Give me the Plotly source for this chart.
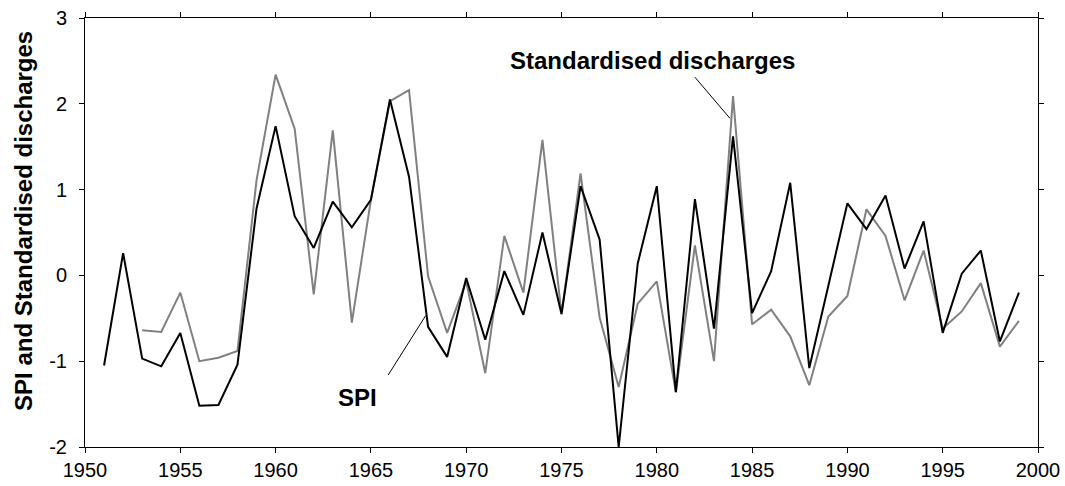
import plotly.graph_objects as go

years_spi = list(range(1951, 2000))
spi = [-1.05, 0.26, -0.97, -1.06, -0.67, -1.52, -1.51, -1.04, 0.78, 1.74,
       0.69, 0.32, 0.86, 0.56, 0.88, 2.05, 1.15, -0.60, -0.95, -0.03,
       -0.75, 0.05, -0.46, 0.50, -0.45, 1.04, 0.42, -2.00, 0.14, 1.04,
       -1.36, 0.89, -0.62, 1.62, -0.44, 0.05, 1.08, -1.08, -0.12, 0.84,
       0.54, 0.93, 0.08, 0.63, -0.67, 0.02, 0.29, -0.77, -0.20]

years_q = list(range(1953, 2000))
discharges = [-0.64, -0.66, -0.20, -1.00, -0.96, -0.88, 1.11, 2.34, 1.71, -0.22,
              1.69, -0.55, 0.88, 2.03, 2.16, -0.01, -0.67, -0.07, -1.14, 0.46,
              -0.20, 1.58, -0.45, 1.19, -0.49, -1.30, -0.33, -0.07, -1.36, 0.35,
              -1.00, 2.09, -0.57, -0.40, -0.71, -1.28, -0.48, -0.24, 0.77, 0.46,
              -0.29, 0.29, -0.62, -0.42, -0.09, -0.83, -0.53]

x_ticks = [1950, 1955, 1960, 1965, 1970, 1975, 1980, 1985, 1990, 1995, 2000]
y_ticks = [-2, -1, 0, 1, 2, 3]

FONT = "Liberation Sans, Arial, sans-serif"

fig = go.Figure()
fig.add_trace(go.Scatter(x=years_q, y=discharges, mode="lines",
                         line=dict(color="#808080", width=2), name="Standardised discharges"))
fig.add_trace(go.Scatter(x=years_spi, y=spi, mode="lines",
                         line=dict(color="#000000", width=2), name="SPI"))

axis_common = dict(showgrid=False, zeroline=False, showline=True, linecolor="black",
                   linewidth=1, mirror="ticks", ticks="outside", ticklen=5,
                   tickcolor="black", tickwidth=1, automargin=False,
                   tickfont=dict(family=FONT, size=20, color="black"))

fig.update_xaxes(range=[1950, 2000], tickvals=x_ticks, ticktext=[str(v) for v in x_ticks],
                 **axis_common)
fig.update_yaxes(range=[-2, 3], tickvals=y_ticks, ticktext=[str(v) for v in y_ticks],
                 ticklabelstandoff=8, **axis_common)

fig.add_annotation(xref="paper", yref="paper", x=(24 - 85) / 953, y=0.527,
                   xanchor="center", yanchor="middle",
                   text="<b>SPI and Standardised discharges</b>", textangle=-90,
                   showarrow=False, font=dict(family=FONT, size=24, color="black"))

fig.add_annotation(x=1979.75, y=2.51, text="<b>Standardised discharges</b>",
                   xanchor="center", yanchor="middle",
                   showarrow=False, font=dict(family=FONT, size=24, color="black"))
fig.add_annotation(x=1964.32, y=-1.42, text="<b>SPI</b>",
                   xanchor="center", yanchor="middle",
                   showarrow=False, font=dict(family=FONT, size=24, color="black"))

fig.add_shape(type="line", x0=1965.91, y0=-1.16, x1=1967.87, y1=-0.47,
              line=dict(color="black", width=1))
fig.add_shape(type="line", x0=1982.0, y0=2.31, x1=1983.84, y1=1.83,
              line=dict(color="black", width=1))

fig.update_layout(width=1065, height=486, margin=dict(l=85, r=27, t=18, b=39),
                  plot_bgcolor="white", paper_bgcolor="white", showlegend=False)

fig.write_html("out.html", config={"displayModeBar": False},
               post_script="document.body.style.margin='0';")
